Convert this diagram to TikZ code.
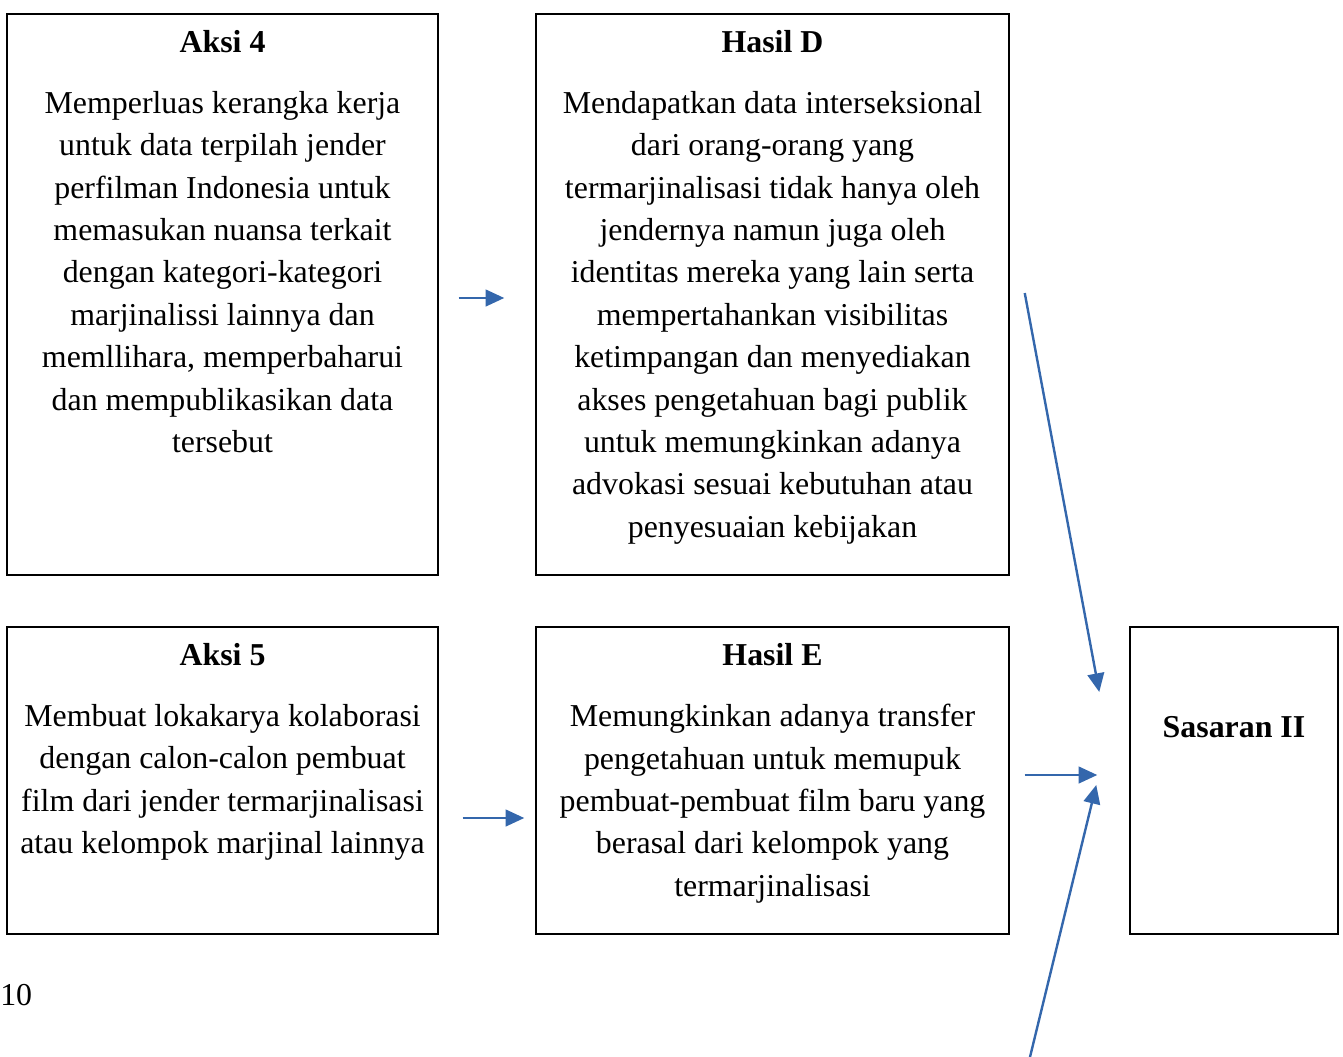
\documentclass[tikz,border=0pt]{standalone}
\usepackage{fontspec}
\setmainfont{Liberation Serif}
\usepackage{xcolor}
\usetikzlibrary{arrows.meta,positioning,calc}

\definecolor{linkblue}{RGB}{52,103,172}

\begin{document}
\begin{tikzpicture}[x=0.75pt, y=-0.75pt,
    every node/.style={font=\fontsize{23.9}{31.8}\selectfont},
    box/.style={draw, line width=1.1pt, inner sep=0pt},
    title/.style={font=\fontsize{23.9}{31.8}\selectfont\bfseries, anchor=base, inner sep=0pt},
    body/.style={align=center, anchor=north, inner sep=0pt},
    link/.style={linkblue, line width=1.8pt, -{Triangle[length=14pt,width=12.5pt]}}]

  \useasboundingbox (0,0) rectangle (1343,1057);

  % boxes
  \node (aksi4) [box, minimum width=323.25pt, minimum height=420.75pt] at (222.5,294.5) {};
  \node (hasilD) [box, minimum width=354.75pt, minimum height=420.75pt] at (772.5,294.5) {};
  \node (aksi5) [box, minimum width=323.25pt, minimum height=230.25pt] at (222.5,780.5) {};
  \node (hasilE) [box, minimum width=354.75pt, minimum height=230.25pt] at (772.5,780.5) {};
  \node (sasaran) [box, minimum width=156pt, minimum height=230.25pt] at (1234,780.5) {};

  % titles
  \node (aksi4title) [title] at (222.5,52) {Aksi 4};
  \node (hasilDtitle) [title] at (772.5,52) {Hasil D};
  \node (aksi5title) [title] at (222.5,665) {Aksi 5};
  \node (hasilEtitle) [title] at (772.5,665) {Hasil E};
  \node (sasarantitle) [title] at (1234,737) {Sasaran II};

  % texts
  \node (aksi4text) [body] at (222.5,91) {Memperluas kerangka kerja\\
    untuk data terpilah jender\\
    perfilman Indonesia untuk\\
    memasukan nuansa terkait\\
    dengan kategori-kategori\\
    marjinalissi lainnya dan\\
    memllihara, memperbaharui\\
    dan mempublikasikan data\\
    tersebut};
  \node (hasilDtext) [body] at (772.5,91) {Mendapatkan data interseksional\\
    dari orang-orang yang\\
    termarjinalisasi tidak hanya oleh\\
    jendernya namun juga oleh\\
    identitas mereka yang lain serta\\
    mempertahankan visibilitas\\
    ketimpangan dan menyediakan\\
    akses pengetahuan bagi publik\\
    untuk memungkinkan adanya\\
    advokasi sesuai kebutuhan atau\\
    penyesuaian kebijakan};
  \node (aksi5text) [body] at (222.5,704) {Membuat lokakarya kolaborasi\\
    dengan calon-calon pembuat\\
    film dari jender termarjinalisasi\\
    atau kelompok marjinal lainnya};
  \node (hasilEtext) [body] at (772.5,704) {Memungkinkan adanya transfer\\
    pengetahuan untuk memupuk\\
    pembuat-pembuat film baru yang\\
    berasal dari kelompok yang\\
    termarjinalisasi};

  \node (pagenum) [anchor=base west, inner sep=0pt] at (0,1005) {10};

  % arrow ends
  \coordinate (a4out) at ($(aksi4.east)+(20,3.5)$);
  \coordinate (dIn) at ($(hasilD.west)+(-31,3.5)$);
  \coordinate (a5out) at ($(aksi5.east)+(24,37.5)$);
  \coordinate (eIn) at ($(hasilE.west)+(-11,37.5)$);
  \coordinate (dOut) at ($(hasilD.east)+(15,-1.5)$);
  \coordinate (sTop) at ($(sasaran.west)+(-30,-88.5)$);
  \coordinate (eOut) at ($(hasilE.east)+(15,-5.5)$);
  \coordinate (sMid) at ($(sasaran.west)+(-32,-5.5)$);
  \coordinate (lowEnd) at (1030,1057);
  \coordinate (sLow) at ($(sasaran.west)+(-33,4.5)$);

  \draw[link] (a4out) -- (dIn);
  \draw[link] (a5out) -- (eIn);
  \draw[link] (dOut) -- (sTop);
  \draw[link] (eOut) -- (sMid);
  \draw[link] (lowEnd) -- (sLow);
\end{tikzpicture}
\end{document}
